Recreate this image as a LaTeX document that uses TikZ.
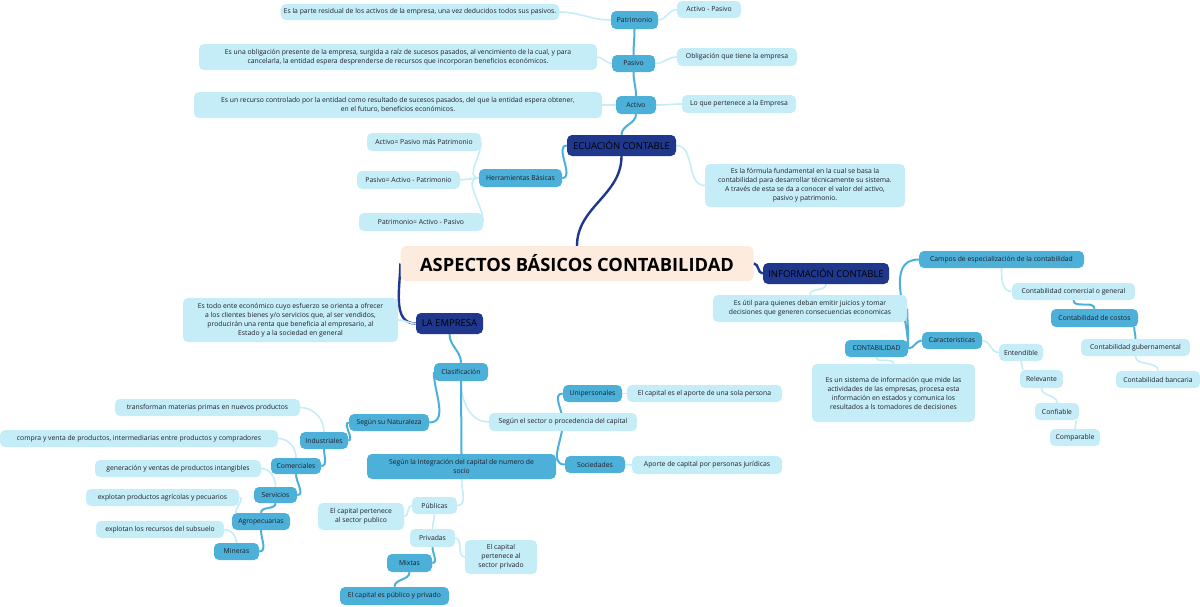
\documentclass[tikz,border=0pt]{standalone}
\usepackage{fontspec}
\setmainfont{Open Sans}
\usetikzlibrary{backgrounds,calc}
\definecolor{lightc}{HTML}{C5EDF8}
\definecolor{medc}{HTML}{4DB0D8}
\definecolor{darkc}{HTML}{1F378C}
\definecolor{cenc}{HTML}{FDEBDE}
\definecolor{txt}{HTML}{1E1E28}
\newcommand\fsz{\fontsize{6.8}{9}\selectfont}
\tikzset{
  lt/.style={fill=lightc, rounded corners=5pt, inner xsep=3pt, inner ysep=0pt, font=\fsz, text=txt, align=center, minimum height=17pt},
  md/.style={lt, fill=medc},
  dk/.style={fill=darkc, rounded corners=5pt, inner xsep=3pt, inner ysep=0pt, minimum height=21pt, font=\fontsize{9.5}{10}\selectfont, text=black},
  lnl/.style={draw=lightc, line width=1.6pt},
  lnm/.style={draw=medc, line width=2pt},
  lnd/.style={draw=darkc, line width=2.4pt},
  mw/.style={minimum width=#1pt},
  mh/.style={minimum height=#1pt}
}
\begin{document}
\begin{tikzpicture}[x=1pt,y=-1pt]
\path[use as bounding box] (0,0) rectangle (1200,606);
% central and main branches
\node[fill=cenc, rounded corners=6pt, minimum width=353pt, minimum height=35pt, font=\fontsize{18.3}{20}\selectfont\bfseries, text=black] (cen) at (577,263.5) {ASPECTOS BÁSICOS CONTABILIDAD};
\node[dk, mw=109] (ec) at (621.5,145.5) {ECUACIÓN CONTABLE};
\node[dk, mw=126] (ic) at (826,273.5) {INFORMACIÓN CONTABLE};
\node[dk, mw=67] (le) at (449.5,323.5) {LA EMPRESA};
% ecuacion subtree
\node[md, mw=47, mh=18] (pat) at (634.5,20) {Patrimonio};
\node[lt, mw=276, mh=16] (res) at (420,12) {Es la parte residual de los activos de la empresa, una vez deducidos todos sus pasivos.};
\node[lt, mw=64] (ap) at (709,9.5) {Activo - Pasivo};
\node[md, mw=43] (pas) at (633.5,63.5) {Pasivo};
\node[lt, mw=398, mh=26] (obl) at (398,57) {Es una obligación presente de la empresa, surgida a raíz de sucesos pasados, al vencimiento de la cual, y para\\cancelarla, la entidad espera desprenderse de recursos que incorporan beneficios económicos.};
\node[lt, mw=120, mh=18] (otq) at (737,57) {Obligación que tiene la empresa};
\node[md, mw=40, mh=18] (act) at (636,105) {Activo};
\node[lt, mw=408, mh=26] (rec) at (398,105) {Es un recurso controlado por la entidad como resultado de sucesos pasados, del que la entidad espera obtener,\\en el futuro, beneficios económicos.};
\node[lt, mw=114, mh=18] (lqp) at (739,104) {Lo que pertenece a la Empresa};
\node[md, mw=83, mh=18] (her) at (520.5,178) {Herramientas Básicas};
\node[lt, mw=114, mh=18] (h1) at (424,142) {Activo= Pasivo más Patrimonio};
\node[lt, mw=103, mh=18] (h2) at (408.5,180) {Pasivo= Activo - Patrimonio};
\node[lt, mw=124, mh=18] (h3) at (421,222) {Patrimonio= Activo - Pasivo};
\node[lt, mw=200, mh=43] (fml) at (805,185.5) {Es la fórmula fundamental en la cual se basa la\\contabilidad para desarrollar técnicamente su sistema.\\A través de esta se da a conocer el valor del activo,\\pasivo y patrimonio.};
% informacion subtree
\node[lt, mw=194, mh=27] (util) at (810,308.5) {Es útil para quienes deban emitir juicios y tomar\\decisiones que generen consecuencias economicas};
\node[md, mw=63] (cont) at (876.5,348.5) {CONTABILIDAD};
\node[md, mw=165] (camp) at (1001.5,259.5) {Campos de especialización de la contabilidad};
\node[md, mw=60] (car) at (952,340.5) {Caracteristicas};
\node[lt, mw=163, mh=58] (sis) at (893.5,393) {Es un sistema de información que mide las\\actividades de las empresas, procesa esta\\información en estados y comunica los\\resultados a ls tomadores de decisiones};
\node[lt, mw=123] (ccg) at (1073.5,291.5) {Contabilidad comercial o general};
\node[md, mw=87, mh=18] (cdc) at (1094.5,318) {Contabilidad de costos};
\node[lt, mw=109] (cgu) at (1135.5,347.5) {Contabilidad gubernamental};
\node[lt, mw=84] (cba) at (1158,379.5) {Contabilidad bancaria};
\node[lt, mw=44] (ent) at (1021,352.5) {Entendible};
\node[lt, mw=43, mh=18] (rel) at (1041.5,379) {Relevante};
\node[lt, mw=44] (cnf) at (1057,411.5) {Confiable};
\node[lt, mw=50] (cmp) at (1075,437.5) {Comparable};
% empresa subtree
\node[lt, mw=215, mh=44] (emp) at (290.5,320) {Es todo ente económico cuyo esfuerzo se orienta a ofrecer\\a los clientes bienes y/o servicios que, al ser vendidos,\\producirán una renta que beneficia al empresario, al\\Estado y a la sociedad en general};
\node[md, mw=54, mh=18] (cla) at (461,372) {Clasificación};
\node[md, mw=80] (nat) at (389,422.5) {Según su Naturaleza};
\node[lt, mw=148, mh=18] (sec) at (563,422) {Según el sector o procedencia del capital};
\node[md, mw=189, mh=25] (integ) at (461.5,466.5) {Según la Integración del capital de numero de\\socio};
\node[md, mw=59] (uni) at (592.5,393.5) {Unipersonales};
\node[md, mw=60] (soc) at (595,464.5) {Sociedades};
\node[lt, mw=155] (uni2) at (704.5,393.5) {El capital es el aporte de una sola persona};
\node[lt, mw=150, mh=18] (soc2) at (707,465) {Aporte de capital por personas jurídicas};
\node[md, mw=48] (ind) at (324,440.5) {Industriales};
\node[lt, mw=185] (tra) at (207.5,407.5) {transforman materias primas en nuevos productos};
\node[md, mw=50, mh=16] (com) at (296,466) {Comerciales};
\node[lt, mw=278] (cyv) at (139,438.5) {compra y venta de productos, intermediarias entre productos y compradores};
\node[md, mw=43, mh=16] (ser) at (275.5,495) {Servicios};
\node[lt, mw=166] (gen) at (178,468.5) {generación y ventas de productos intangibles};
\node[md, mw=58] (agr) at (261,521.5) {Agropecuarias};
\node[lt, mw=153] (epa) at (162.5,497.5) {explotan productos agrícolas y pecuarios};
\node[md, mw=45] (min) at (236.5,551.5) {Mineras};
\node[lt, mw=128] (ers) at (160,529.5) {explotan los recursos del subsuelo};
\node[lt, mw=45] (pub) at (434.5,505.5) {Públicas};
\node[lt, mw=86, mh=27] (cpp) at (361,516.5) {El capital pertenece\\al sector publico};
\node[lt, mw=45, mh=18] (pri) at (432.5,538) {Privadas};
\node[lt, mw=72, mh=34] (cpv) at (501,557) {El capital\\pertenece al\\sector privado};
\node[md, mw=45, mh=18] (mix) at (409.5,563) {Mixtas};
\node[md, mw=109, mh=18] (cpm) at (394.5,596) {El capital es público y privado};
% connectors
\begin{scope}[on background layer]
\draw[lnd] (cen.north) to[out=90,in=-90] (ec.south);
\draw[lnd] (cen.west) to[out=-90,in=180] (le.west);
\draw[lnd] (cen.east) to[out=0,in=180] (ic.west);
\draw[lnm] (ec.north) to[out=90,in=-90] (act.south);
\draw[lnm] (act.north) to[out=90,in=-90] (pas.south);
\draw[lnm] (pas.north) to[out=90,in=-90] (pat.south);
\draw[lnm] (ec.west) to[out=180,in=0] (her.east);
\draw[lnl] (pat.west) to[out=180,in=0] (res.east);
\draw[lnl] (pat.east) to[out=0,in=180] (ap.west);
\draw[lnl] (pas.west) to[out=180,in=0] (obl.east);
\draw[lnl] (pas.east) to[out=0,in=180] (otq.west);
\draw[lnl] (act.west) to[out=180,in=0] (rec.east);
\draw[lnl] (act.east) to[out=0,in=180] (lqp.west);
\draw[lnl] (her.west) to[out=180,in=-90] (h1.east);
\draw[lnl] (her.west) -- (h2.east);
\draw[lnl] (her.west) to[out=180,in=90] (h3.east);
\draw[lnl] (ec.east) to[out=0,in=180] (fml.west);
\draw[lnl] (ic.south) to[out=-90,in=90] (util.north);
\draw[lnm] (util.east) to[out=-90,in=90] (cont.north east);
\draw[lnm] (cont.east) to[out=90,in=180] (camp.west);
\draw[lnm] (cont.east) to[out=0,in=180] (car.west);
\draw[lnl] (cont.south) to[out=-90,in=90] (sis.north);
\draw[lnl] (camp.south) to[out=-90,in=180] (ccg.west);
\draw[lnm] (ccg.south) to[out=-90,in=90] (cdc.north);
\draw[lnm] ($(cdc.south east)+(-4,0)$) to[out=-90,in=90] (cgu.north);
\draw[lnl] (cgu.south) to[out=-90,in=90] (cba.north);
\draw[lnl] (car.east) to[out=0,in=180] (ent.west);
\draw[lnl] (ent.south) to[out=-90,in=90] ($(rel.north west)+(3,0)$);
\draw[lnl] (rel.south) to[out=-90,in=90] (cnf.north);
\draw[lnl] ($(cnf.south east)+(-3,0)$) to[out=-90,in=90] (cmp.north);
\draw[lnl] (le.west) to[out=180,in=0] (emp.east);
\draw[lnm] (le.south) to[out=-90,in=90] (cla.north);
\draw[lnm] (cla.west) to[out=-90,in=0] (nat.east);
\draw[lnl] (cla.south) to[out=-90,in=180] (sec.west);
\draw[lnm] (cla.south) -- (integ.north);
\draw[lnm] (sec.center) to[out=90,in=180] (uni.west);
\draw[lnm] (sec.center) to[out=-90,in=180] (soc.west);
\draw[lnl] (uni.east) to[out=0,in=180] (uni2.west);
\draw[lnl] (soc.east) to[out=0,in=180] (soc2.west);
\draw[lnm] (nat.west) to[out=180,in=0] (ind.east);
\draw[lnl] (ind.north) to[out=90,in=0] (tra.east);
\draw[lnm] (ind.south) to[out=-90,in=0] (com.east);
\draw[lnl] (com.north) to[out=90,in=0] (cyv.east);
\draw[lnm] (com.south) to[out=-90,in=0] (ser.east);
\draw[lnl] (ser.north) to[out=90,in=0] (gen.east);
\draw[lnm] (ser.south) to[out=-90,in=90] (agr.north);
\draw[lnl] ($(agr.north west)+(4,0)$) to[out=90,in=0] (epa.east);
\draw[lnm] (agr.south) to[out=-90,in=0] (min.east);
\draw[lnl] (min.north) to[out=90,in=0] (ers.east);
\draw[lnl] (integ.south) to[out=-90,in=0] (pub.east);
\draw[lnl] (pub.west) to[out=180,in=0] (cpp.east);
\draw[lnl] (pub.south) to[out=-90,in=90] (pri.north);
\draw[lnl] (pri.east) to[out=0,in=180] (cpv.west);
\draw[lnm] (pri.south) to[out=-90,in=0] (mix.east);
\draw[lnm] (mix.south) to[out=-90,in=90] (cpm.north);
\end{scope}
\end{tikzpicture}
\end{document}
